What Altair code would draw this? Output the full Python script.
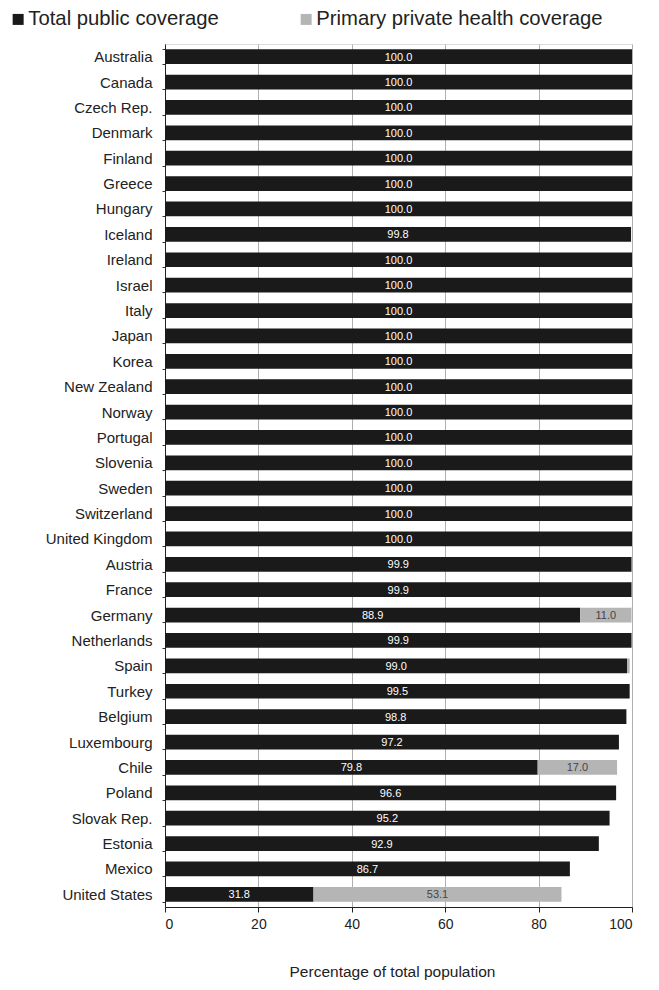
import altair as alt
import pandas as pd

countries = ["Australia", "Canada", "Czech Rep.", "Denmark", "Finland", "Greece", "Hungary",
             "Iceland", "Ireland", "Israel", "Italy", "Japan", "Korea", "New Zealand", "Norway",
             "Portugal", "Slovenia", "Sweden", "Switzerland", "United Kingdom", "Austria", "France",
             "Germany", "Netherlands", "Spain", "Turkey", "Belgium", "Luxembourg", "Chile", "Poland",
             "Slovak Rep.", "Estonia", "Mexico", "United States"]
public = [100.0] * 7 + [99.8] + [100.0] * 12 + [99.9, 99.9, 88.9, 99.9, 99.0, 99.5, 98.8, 97.2,
                                              79.8, 96.6, 95.2, 92.9, 86.7, 31.8]
private = [0.0] * 22 + [11.0, 0.0, 0.5, 0.0, 0.0, 0.0, 17.0, 0.0, 0.0, 0.0, 0.0, 53.1]
private_labelled = ["Germany", "Chile", "United States"]

series_names = ["Total public coverage", "Primary private health coverage"]

rows = []
for c, p, q in zip(countries, public, private):
    rows.append({"country": c, "series": series_names[0], "start": 0.0, "end": p,
                 "mid": p / 2, "label": f"{p:.1f}", "show": True})
    if q > 0:
        rows.append({"country": c, "series": series_names[1], "start": p, "end": p + q,
                     "mid": p + q / 2, "label": f"{q:.1f}", "show": c in private_labelled})
df = pd.DataFrame(rows)

FONT = "Liberation Sans"

yenc = alt.Y("country:N", sort=countries, title=None,
             scale=alt.Scale(paddingInner=0.42, paddingOuter=0.21),
             axis=alt.Axis(labelFontSize=15, labelColor="#222", labelFont=FONT,
                           tickBand="extent", tickColor="#333", tickSize=3, domainColor="#222",
                           labelPadding=10, grid=False))

bars = alt.Chart(df).mark_bar().encode(
    y=yenc,
    x=alt.X("start:Q", scale=alt.Scale(domain=[0, 100]),
            title="Percentage of total population",
            axis=alt.Axis(values=[0, 20, 40, 60, 80, 100], labelFontSize=14, labelColor="#222",
                          labelFont=FONT, titleFont=FONT,
                          titleFontSize=15.5, titleFontWeight="normal", titleColor="#222",
                          titlePadding=33, titleX=227, tickColor="#222", domainColor="#222",
                          gridColor="#b0b0b0", grid=True, tickSize=5, labelPadding=5)),
    x2="end:Q",
    color=alt.Color("series:N", sort=series_names,
                    scale=alt.Scale(domain=series_names, range=["#1a1a1a", "#b5b5b5"]),
                    legend=alt.Legend(title=None, orient="none", direction="horizontal",
                                      legendX=-157, legendY=-35, padding=0, symbolType="square",
                                      symbolSize=121, symbolStrokeWidth=0,
                                      labelFontSize=20.3, labelFont=FONT,
                                      labelColor="#222", columnPadding=77, labelOffset=0,
                                      labelLimit=400)),
)

labels = alt.Chart(df).transform_filter("datum.show").mark_text(
    fontSize=11, font=FONT, baseline="middle", dy=1
).encode(
    y=alt.Y("country:N", sort=countries),
    x=alt.X("mid:Q"),
    text="label:N",
    color=alt.Color("series:N", scale=alt.Scale(domain=series_names, range=["#ffffff", "#444444"]),
                    legend=None),
)

chart = alt.layer(bars, labels).resolve_scale(color="independent").properties(
    width=467, height=863,
    autosize=alt.AutoSizeParams(type="none"),
    padding={"left": 157, "top": 36, "right": 18, "bottom": 75},
).configure_view(stroke="#888888", strokeWidth=1).configure(background="white")

chart.save("out.html", embed_options={"renderer": "svg", "actions": False})
